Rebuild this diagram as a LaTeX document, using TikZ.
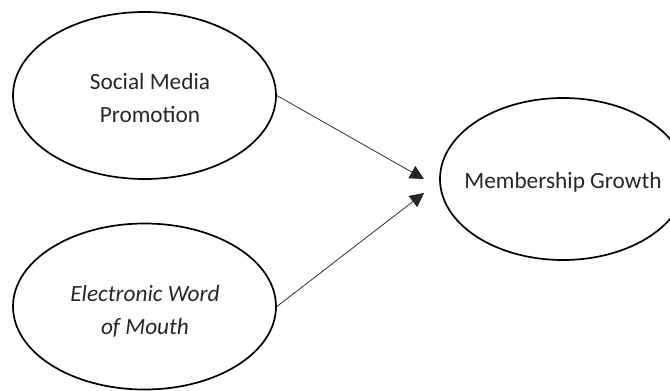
\documentclass[tikz,border=0pt]{standalone}
\usepackage{fontspec}
\setmainfont{Carlito}
\usetikzlibrary{shapes.geometric,arrows.meta}
\begin{document}
\begin{tikzpicture}[x=1pt,y=-1pt,
  oval/.style={draw=black,line width=1.7pt,ellipse,inner sep=0pt},
  lbl/.style={text=black!85,align=center,inner sep=0pt,font=\fontsize{23.3}{33}\selectfont},
  link/.style={line width=0.75pt,draw=black!85,-{Triangle[length=14pt,width=14pt]}}]
\useasboundingbox (0,0) rectangle (670,391);
\node[oval,minimum width=263pt,minimum height=167pt] (smp) at (144.5,95.5) {};
\node[oval,minimum width=263pt,minimum height=166pt] (ewom) at (144.5,306.5) {};
\node[oval,minimum width=246pt,minimum height=162pt] (mg) at (563,179) {};
\node[lbl] (smpt) at (150,97.5) {Social Media\\Promotion};
\node[lbl] (ewomt) at (145,311) {\itshape Electronic Word\\\itshape of Mouth};
\node[lbl] (mgt) at (563,182) {Membership Growth};
\coordinate (tip1) at (424,179);
\coordinate (tip2) at (424,193);
\draw[link] (smp.east) -- (tip1);
\draw[link] (ewom.east) -- (tip2);
\end{tikzpicture}
\end{document}
